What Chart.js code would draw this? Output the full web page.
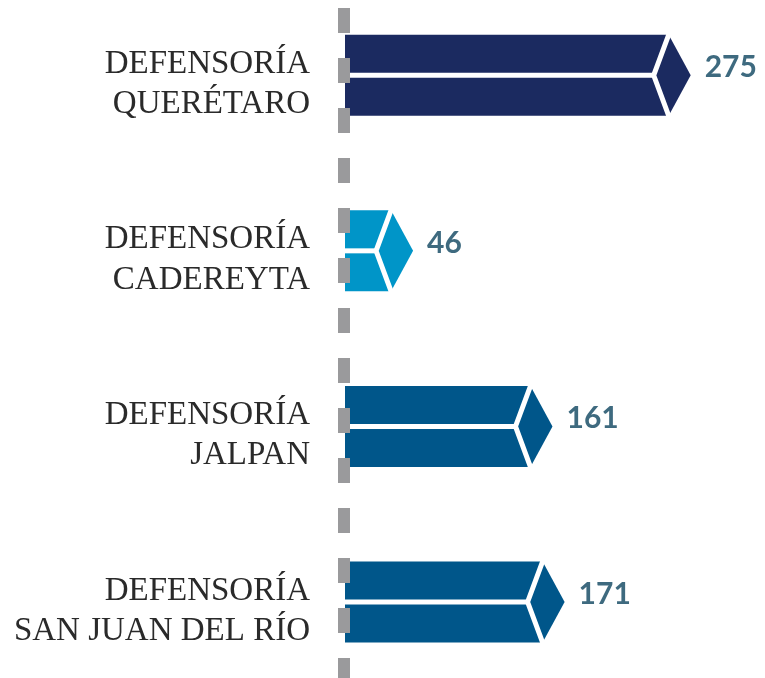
<!DOCTYPE html>
<html>
<head>
<meta charset="utf-8">
<script src="https://cdn.jsdelivr.net/npm/chart.js@4"></script>
<style>
  html, body { margin: 0; padding: 0; background: #fff; }
  #wrap { width: 765px; height: 678px; }
</style>
</head>
<body>
<div id="wrap"><canvas id="c"></canvas></div>
<script>
const labels = [
  ["DEFENSORÍA", "QUERÉTARO"],
  ["DEFENSORÍA", "CADEREYTA"],
  ["DEFENSORÍA", "JALPAN"],
  ["DEFENSORÍA", "SAN JUAN DEL RÍO"],
];
const values = [275, 46, 161, 171];
const colors = ["#1b2a60", "#0095c8", "#00568a", "#00568a"];

// arrow shaped bars, dashed baseline and value labels
const arrowBars = {
  id: "arrowBars",
  beforeDatasetDraw(chart, args) {
    const ctx = chart.ctx;
    const meta = args.meta;
    const left = chart.chartArea.left;
    meta.data.forEach((bar, i) => {
      const p = bar.getProps(["x", "y", "height"], true);
      const top = p.y - p.height / 2;
      const bottom = p.y + p.height / 2;
      const r = p.x;
      ctx.save();
      ctx.fillStyle = colors[i];
      ctx.beginPath();
      ctx.moveTo(left, top);
      ctx.lineTo(r, top);
      ctx.lineTo(r + 22, p.y);
      ctx.lineTo(r, bottom);
      ctx.lineTo(left, bottom);
      ctx.closePath();
      ctx.fill();

      // white cuts
      ctx.strokeStyle = "#fff";
      ctx.lineWidth = 5;
      ctx.beginPath();
      ctx.moveTo(left, p.y);
      ctx.lineTo(r - 15, p.y);
      ctx.stroke();
      const dx = 15, dy = p.height / 2;
      const len = Math.hypot(dx, dy);
      const ext = 6;
      ctx.beginPath();
      ctx.moveTo(r + dx / len * ext, top - dy / len * ext);
      ctx.lineTo(r - 15, p.y);
      ctx.lineTo(r + dx / len * ext, bottom + dy / len * ext);
      ctx.stroke();
      ctx.restore();
    });
    return false;
  },
  afterDatasetsDraw(chart) {
    const ctx = chart.ctx;
    const x0 = chart.chartArea.left - 1;
    ctx.save();
    ctx.strokeStyle = "#9a9a9c";
    ctx.lineWidth = 12;
    ctx.setLineDash([25, 25]);
    ctx.beginPath();
    ctx.moveTo(x0, -42);
    ctx.lineTo(x0, chart.height + 10);
    ctx.stroke();
    ctx.setLineDash([]);

    const meta = chart.getDatasetMeta(0);
    ctx.fillStyle = "#3e6a7f";
    ctx.font = "bold 30px Lato";
    ctx.textAlign = "left";
    ctx.textBaseline = "alphabetic";
    meta.data.forEach((bar, i) => {
      const p = bar.getProps(["x", "y"], true);
      ctx.fillText(String(values[i]), p.x + 22 + 14, p.y + 2);
    });
    ctx.restore();
  },
};

new Chart(document.getElementById("c"), {
  type: "bar",
  data: {
    labels: labels,
    datasets: [
      {
        data: values,
        backgroundColor: colors,
        barThickness: 81,
        clip: false,
      },
    ],
  },
  options: {
    indexAxis: "y",
    responsive: true,
    maintainAspectRatio: false,
    animation: false,
    layout: { padding: { top: 74, bottom: 76, left: 0, right: 66 } },
    plugins: {
      legend: { display: false },
      tooltip: { enabled: false },
    },
    scales: {
      x: {
        min: 8,
        max: 300,
        display: false,
      },
      y: {
        offset: false,
        grid: { display: false, drawTicks: false },
        border: { display: false },
        ticks: {
          color: "#2a2a2a",
          padding: 35,
          labelOffset: 9,
          font: { family: "Liberation Serif", size: 33, lineHeight: 1.22 },
        },
        afterFit(scale) {
          scale.width = 345;
        },
      },
    },
  },
  plugins: [arrowBars],
});
</script>
</body>
</html>
